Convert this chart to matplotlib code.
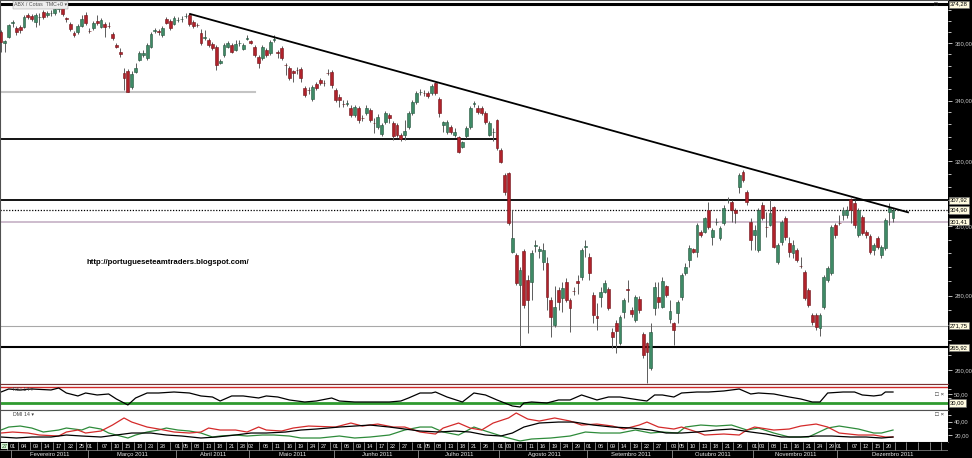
import matplotlib.pyplot as plt
import matplotlib.transforms as mtransforms
from matplotlib.ticker import NullFormatter
import numpy as np
import pandas as pd

plt.rcParams['font.family'] = ['Liberation Sans', 'DejaVu Sans']

# daily candles, 27 Jan 2011 .. 21 Dec 2011
opens = [364.0, 360.0, 362.2, 367.3, 365.4, 365.8, 365.8, 370.2, 369.8, 367.6,
         369.4, 371.3, 370.2, 370.8, 370.9, 372.6, 373.1, 369.0, 366.9, 363.6,
         364.0, 366.2, 370.2, 364.4, 365.4, 368.0, 365.8, 366.9, 366.3, 363.3,
         359.3, 356.8, 349.4, 350.1, 344.6, 349.8, 354.0, 355.8, 354.7, 358.6,
         364.4, 364.2, 362.9, 368.8, 368.0, 366.9, 368.3,
         368.6, 369.9, 370.2, 367.6, 366.5, 363.6, 361.8, 361.1, 359.7, 358.6,
         353.0, 355.8, 358.6, 359.3, 357.5, 360.0, 357.9, 361.6, 360.7, 358.6,
         355.1, 354.7, 357.5, 356.4, 361.3, 356.9, 358.2, 352.3, 351.2, 350.2,
         350.6, 350.8, 344.3, 343.7, 340.5, 345.6, 347.0, 346.1, 349.5, 349.8,
         343.6, 341.2, 339.0, 338.9, 337.5, 335.1, 337.5,
         334.3, 335.8, 336.8, 332.6, 331.2, 328.9, 332.8, 335.1, 332.5, 331.8,
         328.5, 328.5, 331.2, 335.8, 339.5, 342.8, 342.7, 342.6, 342.6, 346.0,
         340.5, 331.8, 329.5, 331.2, 328.5, 327.9, 324.7, 328.2, 331.2, 339.0,
         337.5, 337.5, 335.8, 328.5, 329.4, 333.5, 323.7, 315.7, 316.4, 292.4,
         291.5, 283.0, 292.7, 284.4, 283.8, 294.3, 292.7,
         289.5, 289.2, 278.8, 271.9, 281.6, 279.4, 283.8, 278.8, 281.4, 284.1,
         285.2, 294.0, 291.0, 280.2, 274.3, 279.6, 281.0, 281.8, 270.1, 272.5,
         267.1, 275.5, 281.7, 276.0, 273.3, 279.1, 269.5, 267.1, 260.6, 276.6,
         279.6, 276.9, 282.7, 273.6, 272.5, 275.2, 279.6, 286.4, 290.1, 293.3,
         292.4, 298.3, 298.3, 304.9, 296.8, 301.2,
         296.5, 301.0, 307.9, 307.3, 304.9, 311.9, 316.7, 310.4, 301.3, 297.4,
         293.0, 306.4, 299.9, 300.4, 305.8, 289.5, 295.3, 302.5, 295.0, 292.1,
         293.0, 288.5, 286.6, 281.6, 274.6, 274.6, 271.1, 276.9, 284.4, 286.4,
         300.4, 301.1, 303.4, 303.4, 308.3, 307.0, 297.4, 302.8, 298.3, 297.1,
         293.0, 296.5, 291.5, 293.6, 304.3, 302.5]
highs = [364.7, 361.1, 366.9, 368.4, 366.2, 366.5, 370.2, 371.0, 370.6, 370.9,
         370.9, 372.0, 371.7, 372.0, 373.1, 373.1, 373.5, 369.5, 367.6, 364.4,
         366.9, 370.2, 371.3, 365.4, 368.0, 370.2, 369.1, 367.6, 367.6, 364.0,
         360.0, 358.2, 351.2, 350.8, 350.1, 352.9, 357.2, 357.5, 360.0, 364.0,
         365.4, 365.1, 366.2, 369.5, 368.8, 369.8, 369.5,
         369.8, 370.9, 370.9, 368.4, 367.3, 365.1, 364.7, 361.8, 360.4, 359.3,
         354.3, 360.0, 360.7, 360.0, 361.1, 361.1, 360.0, 362.9, 361.1, 359.3,
         355.8, 359.3, 358.2, 361.1, 362.9, 357.5, 358.9, 353.0, 351.9, 350.5,
         351.5, 351.5, 345.0, 344.6, 345.3, 346.3, 347.7, 347.0, 350.8, 350.5,
         344.3, 342.2, 340.2, 340.2, 338.5, 338.5, 338.1,
         335.1, 338.5, 337.5, 334.1, 335.5, 332.5, 336.5, 335.8, 333.1, 332.5,
         329.2, 333.5, 336.5, 340.2, 343.3, 343.9, 343.6, 343.3, 345.6, 346.3,
         341.2, 333.1, 333.5, 331.8, 330.8, 328.2, 326.6, 331.5, 338.1, 339.8,
         338.5, 338.1, 336.5, 333.1, 330.8, 333.8, 324.3, 316.4, 316.7, 304.9,
         292.1, 288.1, 293.3, 285.8, 293.0, 295.9, 294.3,
         295.0, 291.0, 279.6, 282.7, 282.4, 283.8, 284.9, 279.4, 282.4, 285.8,
         293.6, 295.9, 292.1, 281.0, 278.0, 282.4, 284.4, 282.4, 271.1, 273.3,
         274.6, 279.4, 284.4, 276.9, 280.2, 279.9, 270.1, 267.4, 272.5, 283.8,
         283.8, 285.2, 283.0, 278.8, 272.8, 278.8, 286.4, 289.2, 294.4, 293.6,
         301.0, 298.9, 302.8, 307.3, 299.5, 302.5,
         300.1, 306.4, 308.9, 308.0, 305.5, 316.4, 317.3, 311.0, 302.5, 300.4,
         305.5, 307.3, 304.3, 308.0, 306.1, 295.0, 301.9, 303.1, 296.8, 295.9,
         293.6, 291.0, 287.2, 282.1, 275.2, 275.2, 275.2, 285.8, 288.3, 300.4,
         301.0, 303.4, 305.8, 306.1, 308.6, 308.0, 305.5, 303.4, 298.9, 297.7,
         295.0, 297.1, 294.5, 302.5, 307.0, 305.5]
lows = [356.8, 356.8, 361.8, 365.8, 362.9, 363.6, 365.4, 368.8, 368.0, 365.8,
        366.5, 368.8, 369.5, 370.0, 370.2, 371.3, 369.8, 367.6, 364.4, 362.2,
        363.3, 365.8, 366.5, 363.6, 364.7, 366.5, 365.4, 362.2, 365.4, 361.1,
        358.2, 355.1, 343.6, 342.9, 343.9, 349.4, 353.6, 355.1, 354.0, 358.2,
        363.6, 362.9, 362.2, 366.9, 364.7, 366.5, 367.6,
        367.6, 369.1, 366.2, 365.4, 365.8, 359.3, 361.1, 358.6, 357.5, 350.5,
        352.6, 355.1, 358.2, 356.4, 357.2, 358.9, 357.5, 361.1, 359.7, 355.1,
        351.2, 354.0, 355.1, 355.8, 360.4, 354.7, 354.0, 348.8, 347.0, 346.3,
        349.1, 346.3, 341.2, 342.2, 339.8, 343.6, 345.3, 345.0, 348.8, 344.3,
        339.5, 337.8, 337.8, 338.1, 334.5, 334.5, 332.5,
        333.1, 335.1, 332.8, 329.2, 330.5, 328.2, 332.2, 332.5, 326.9, 327.9,
        326.6, 326.9, 330.5, 335.1, 338.8, 341.9, 341.6, 340.9, 341.9, 341.9,
        334.5, 329.5, 328.9, 328.9, 327.9, 322.7, 324.3, 327.6, 330.5, 337.8,
        335.5, 335.1, 332.2, 328.2, 326.6, 323.7, 319.5, 309.5, 300.4, 292.1,
        282.9, 266.4, 276.6, 269.8, 278.8, 292.4, 290.7,
        287.2, 276.0, 268.7, 271.4, 276.0, 275.5, 278.2, 270.1, 280.1, 280.5,
        284.4, 290.9, 284.4, 272.5, 270.6, 276.9, 280.7, 276.0, 265.8, 264.5,
        266.6, 273.8, 278.2, 274.1, 272.8, 275.2, 263.2, 256.7, 260.1, 274.6,
        276.6, 276.6, 279.6, 272.5, 266.6, 272.5, 278.8, 285.8, 288.1, 292.1,
        291.0, 296.8, 298.0, 299.2, 294.4, 300.4,
        295.9, 300.4, 307.0, 301.3, 301.0, 310.1, 313.5, 306.4, 293.0, 293.0,
        292.4, 301.9, 296.8, 300.1, 293.6, 289.0, 294.5, 295.9, 291.0, 290.7,
        289.5, 287.8, 278.8, 276.9, 271.9, 270.6, 268.9, 276.3, 283.8, 285.8,
        296.5, 300.4, 301.9, 302.5, 301.0, 299.5, 296.8, 297.4, 296.5, 291.8,
        291.5, 293.3, 290.7, 293.0, 300.4, 301.3]
closes = [360.4, 360.7, 366.5, 367.6, 364.0, 364.7, 369.5, 369.5, 368.8, 370.2,
          369.6, 369.5, 370.9, 371.0, 372.4, 372.8, 370.6, 368.8, 365.1, 362.9,
          366.2, 368.8, 367.3, 364.2, 367.3, 367.3, 368.4, 365.8, 366.1, 361.8,
          358.6, 356.1, 347.7, 342.9, 349.1, 351.2, 356.4, 356.4, 359.3, 363.3,
          364.9, 363.9, 365.4, 367.3, 365.4, 369.1, 368.5,
          368.9, 370.0, 366.9, 366.2, 366.4, 360.0, 362.2, 359.3, 358.2, 352.2,
          353.6, 359.3, 360.0, 356.8, 359.7, 360.2, 359.3, 361.9, 360.2, 355.8,
          352.9, 358.6, 355.8, 360.4, 361.5, 356.6, 354.7, 352.1, 347.7, 349.4,
          350.4, 347.7, 341.9, 343.5, 344.6, 344.3, 346.0, 345.9, 349.3, 345.3,
          340.2, 340.2, 338.8, 339.1, 335.1, 337.8, 333.5,
          334.1, 337.5, 333.5, 332.4, 334.5, 331.8, 335.8, 334.1, 328.2, 328.5,
          327.2, 329.8, 335.8, 339.5, 342.6, 343.0, 342.5, 341.6, 345.0, 342.6,
          335.8, 332.8, 332.8, 329.5, 329.5, 323.0, 326.3, 330.8, 337.5, 339.3,
          336.1, 335.8, 332.8, 332.5, 329.6, 324.3, 319.8, 310.4, 301.0, 296.5,
          283.5, 287.2, 277.4, 278.8, 292.1, 294.6, 293.3,
          293.0, 279.6, 274.1, 276.9, 278.2, 282.1, 278.8, 276.6, 281.2, 283.5,
          293.0, 294.3, 286.4, 274.6, 273.8, 281.0, 283.5, 276.6, 268.7, 270.3,
          274.1, 278.8, 281.5, 274.9, 279.6, 276.0, 264.0, 264.8, 270.1, 282.4,
          278.2, 284.1, 280.2, 275.7, 270.6, 278.2, 285.8, 288.1, 293.6, 292.4,
          300.4, 297.4, 302.5, 299.8, 298.9, 301.4,
          299.5, 305.5, 308.1, 304.9, 304.0, 315.7, 314.1, 307.3, 295.9, 298.9,
          304.9, 302.5, 299.7, 304.0, 293.9, 294.5, 301.3, 296.8, 292.4, 294.5,
          290.1, 288.3, 279.4, 277.4, 272.8, 271.4, 274.6, 285.2, 287.8, 299.8,
          297.4, 301.0, 304.9, 304.9, 304.9, 300.4, 304.9, 298.0, 297.4, 292.4,
          294.5, 293.9, 293.9, 301.9, 305.5, 304.9]

# drawn levels and trendline
level_vals = [374.28, 307.92, 304.90, 301.41, 271.75, 265.92]
level_text = ['374,28', '307,92', '304,90', '301,41', '271,75', '265,92']
march_low = 342.9
june_floor = 327.2
trend_idx = [49.2, 235.9]
trend_val = [370.6, 304.2]

# RSI 14
rsi_idx = [0, 2, 5, 8, 13, 15, 17, 20, 22, 25, 28, 30, 33, 35, 38, 41, 45, 49, 52, 55,
           57, 60, 63, 67, 69, 72, 75, 79, 82, 86, 88, 92, 96, 101, 104, 106, 109, 112, 113, 116,
           120, 123, 126, 129, 133, 135, 136, 138, 142, 145, 148, 151, 155, 158, 161, 166, 168, 170, 172, 175,
           177, 181, 184, 188, 192, 195, 197, 201, 205, 208, 211, 213, 215, 219, 222, 224, 227, 229, 230, 232]
rsi_val = [54.4, 61.1, 58.9, 61.1, 58.9, 63.3, 52.2, 45.6, 52.2, 47.8, 50, 38.9, 25.6, 41.1, 52.2, 52.2, 54.4, 52.2, 45.6, 43.3,
           34.4, 45.6, 45.6, 41.1, 45.6, 43.3, 36.7, 32.2, 34.4, 41.1, 34.4, 32.2, 32.2, 32.2, 34.4, 41.1, 52.2, 52.2, 54.4, 43.3,
           32.2, 52.2, 47.8, 36.7, 23.3, 21.1, 30, 32.2, 30, 36.7, 36.7, 47.8, 36.7, 43.3, 43.3, 36.7, 34.4, 47.8, 47.8, 43.3,
           52.2, 54.4, 54.4, 56.7, 61.1, 50, 52.2, 50, 43.3, 38.9, 32.2, 32.2, 52.2, 54.4, 54.4, 47.8, 45.6, 47.8, 54.4, 54.4]

# DMI 14: +DI (green), -DI (red), ADX (black)
pdi_idx = [0, 2, 5, 8, 11, 15, 17, 21, 23, 26, 28, 31, 33, 35, 38, 41, 43, 46, 49, 52,
           55, 57, 61, 64, 68, 71, 75, 78, 83, 88, 92, 96, 101, 105, 109, 112, 115, 119, 123, 126,
           131, 135, 138, 143, 148, 152, 156, 161, 165, 169, 172, 176, 178, 182, 186, 190, 194, 197, 201, 205,
           210, 215, 218, 223, 227, 229, 232]
pdi_val = [27.5, 32, 33.5, 30.5, 24.5, 27.5, 30.5, 27.5, 32, 29, 23, 18.5, 15.5, 20, 24.5, 27.5, 30.5, 27.5, 26, 23,
           17, 18.5, 20, 18.5, 20, 20, 18.5, 15.5, 15.5, 18.5, 15.5, 17, 20, 27.5, 32, 32, 24.5, 20, 32, 26,
           17, 11, 14, 15.5, 18.5, 24.5, 23, 23, 27.5, 23, 24.5, 23, 32, 35, 33.5, 35, 27.5, 30.5, 23, 17,
           17, 30.5, 33.5, 29, 23, 23, 27.5]
mdi_idx = [0, 3, 7, 10, 15, 17, 20, 22, 26, 29, 32, 34, 38, 41, 45, 49, 52, 54, 57, 61,
           64, 67, 69, 73, 76, 80, 87, 91, 94, 98, 102, 105, 109, 113, 115, 119, 122, 125, 128, 132,
           134, 137, 140, 144, 148, 151, 155, 159, 162, 166, 168, 171, 175, 177, 181, 183, 188, 192, 194, 196,
           201, 205, 208, 212, 215, 218, 223, 227, 230, 232]
mdi_val = [23, 24.5, 23, 20, 18.5, 24.5, 27.5, 23, 26, 35, 45.6, 39.5, 32, 29, 24.5, 23, 24.5, 30.5, 27.5, 27.5,
           24.5, 32, 27.5, 26, 30.5, 33.5, 32, 38, 33.5, 36.5, 32, 32, 24.5, 21.5, 30.5, 38, 30.5, 27.5, 38, 45.6,
           53.1, 44, 41, 45.6, 41, 35, 36.5, 33.5, 29, 35, 39.5, 32, 29, 32, 24.5, 20, 21.5, 20, 27.5, 32,
           27.5, 29, 33.5, 36.5, 32, 23, 20, 20, 17, 17]
adx_idx = [0, 4, 8, 13, 17, 21, 26, 30, 34, 39, 43, 47, 52, 56, 61, 65, 69, 74, 78, 82,
           88, 92, 96, 101, 105, 109, 114, 118, 122, 126, 130, 133, 136, 140, 145, 149, 154, 159, 164, 169,
           173, 177, 181, 186, 190, 195, 199, 203, 208, 212, 216, 221, 225, 229, 232]
adx_val = [17, 15.5, 17, 17, 20, 18.5, 17, 20, 23, 23, 20, 18.5, 15.5, 17, 20, 23, 23, 24.5, 27.5, 29,
           32, 33.5, 35, 32, 29, 26, 24.5, 26, 24.5, 20, 18.5, 23, 32, 38, 39.5, 39.5, 35, 32, 30.5, 27.5,
           23, 23, 24.5, 27.5, 29, 24.5, 21.5, 17, 17, 18.5, 18.5, 17, 17, 15.5, 17]

month_names = ['Fevereiro 2011', 'Março 2011', 'Abril 2011', 'Maio 2011', 'Junho 2011', 'Julho 2011',
               'Agosto 2011', 'Setembro 2011', 'Outubro 2011', 'Novembro 2011', 'Dezembro 2011']

# trading days (Euronext closed on Good Friday / Easter Monday)
dates = pd.bdate_range('2011-01-27', '2011-12-21')
dates = dates[~dates.isin(pd.to_datetime(['2011-04-22', '2011-04-25']))]
n = len(closes)
dates = dates[:n]
x = np.arange(n)

W, H = 972, 458
fig = plt.figure(figsize=(W / 100, H / 100), dpi=100, facecolor='black')


def px_box(x0, y0, x1, y1):
    return [x0 / W, 1 - y1 / H, (x1 - x0) / W, (y1 - y0) / H]


ax = fig.add_axes(px_box(0, 0, 948, 384))
ax_rsi = fig.add_axes(px_box(0, 384, 948, 410))
ax_dmi = fig.add_axes(px_box(0, 410, 948, 442))
ax_t = fig.add_axes(px_box(0, 442, 948, 458))
XMIN, XMAX = -0.26, 246.3
for a in (ax, ax_rsi, ax_dmi, ax_t):
    a.set_xlim(XMIN, XMAX)
    a.set_xticks([])
for a in (ax, ax_rsi, ax_dmi):
    a.set_facecolor('white')
    for s in a.spines.values():
        s.set_color('#505050')
        s.set_linewidth(0.8)
    a.spines['right'].set_visible(False)
    a.yaxis.tick_right()
    a.tick_params(axis='y', which='both', colors='#e0e0e0', labelcolor='#c8c8c8',
                  labelsize=4.2, direction='out', width=0.6, pad=1.5)
    a.tick_params(axis='y', which='major', length=3)
    a.tick_params(axis='y', which='minor', length=2)

# ---- price panel ----
ax.set_yscale('log')
ax.set_ylim(256.4, 375.8)
major = [260, 280, 300, 320, 340, 360]
ax.set_yticks(major, labels=[f'{v},00' for v in major])
ax.set_yticks(list(range(260, 376, 4)), minor=True)
ax.yaxis.set_minor_formatter(NullFormatter())

o, h, l, c = map(np.array, (opens, highs, lows, closes))
hi = np.maximum(o, c)
lo = np.minimum(o, c)
h = np.maximum(h, hi)
l = np.minimum(l, lo)
up = c >= o
ax.vlines(x, l, h, color='#5c5c5c', lw=0.7, zorder=3)
ax.bar(x[up], (hi - lo)[up], bottom=lo[up], width=0.74, color='#3e8a66',
       edgecolor='#24543d', lw=0.4, zorder=4)
ax.bar(x[~up], (hi - lo)[~up], bottom=lo[~up], width=0.74, color='#b0222a',
       edgecolor='#6e1218', lw=0.4, zorder=4)

ax.axhline(level_vals[0], color='black', lw=2.2, zorder=2)
ax.axhline(level_vals[1], color='black', lw=1.3, zorder=2)
ax.axhline(level_vals[2], color='black', lw=0.9, ls=(0, (1, 1.3)), zorder=2)
ax.axhline(level_vals[3], color='#c9b6c9', lw=1.3, zorder=2)
ax.axhline(level_vals[4], color='#a8a8a8', lw=0.8, zorder=2)
ax.axhline(level_vals[5], color='black', lw=1.5, zorder=2)
ax.axhline(march_low, xmax=255 / 948, color='#c4c4c4', lw=1.5, zorder=2)
ax.axhline(june_floor, xmax=497 / 948, color='black', lw=1.3, zorder=2)
ax.plot(trend_idx, trend_val, color='black', lw=1.3, zorder=5)

trans = mtransforms.blended_transform_factory(ax.transAxes, ax.transData)
for v, s in zip(level_vals, level_text):
    ax.text(1.002, v, s, transform=trans, fontsize=4.2, va='center', ha='left', color='black',
            bbox=dict(boxstyle='square,pad=0.18', fc='#fffbe0', ec='#707070', lw=0.4),
            clip_on=False, zorder=10)

ax.text(14 / 948, 1 - 5 / 384, 'ABX / Cotas  TMC+0 \u25be', transform=ax.transAxes, fontsize=3.8,
        color='#505050', va='center', ha='left',
        bbox=dict(boxstyle='square,pad=0.2', fc='#eeeeee', ec='#909090', lw=0.3), zorder=6)
ax.text(936 / 948, 1 - 4 / 384, '\u25a1', transform=ax.transAxes, fontsize=4.5,
        color='#303030', va='center', ha='center', zorder=6)
ax.text(168 / 948, 1 - 262 / 384, 'http://portugueseteamtraders.blogspot.com/',
        transform=ax.transAxes, fontsize=5.6, fontweight='bold', ha='center', va='center')

# ---- RSI panel ----
ax_rsi.set_ylim(14.4, 72.2)
ax_rsi.spines['top'].set_color('#7a3030')
ax_rsi.axhline(65.5, color='#d02828', lw=1)
ax_rsi.axhline(30, color='#2f9a2f', lw=2)
ax_rsi.plot(rsi_idx, rsi_val, color='black', lw=0.9)
ax_rsi.set_yticks([50], labels=['50,00'])
ax_rsi.set_yticks([40, 60], minor=True)
rt = mtransforms.blended_transform_factory(ax_rsi.transAxes, ax_rsi.transData)
ax_rsi.text(1.002, 30, '30,00', transform=rt, fontsize=4.2, va='center', ha='left',
            bbox=dict(boxstyle='square,pad=0.18', fc='#fffbe0', ec='#707070', lw=0.4),
            clip_on=False, zorder=10)
ax_rsi.text(13 / 948, 0.78, 'RSI 14 \u25be', transform=ax_rsi.transAxes, fontsize=3.8,
            color='#404040', va='center')
ax_rsi.text(940 / 948, 0.6, '\u25a1 \u00d7', transform=ax_rsi.transAxes, fontsize=4.5,
            color='#303030', va='center', ha='center')

# ---- DMI panel ----
ax_dmi.set_ylim(9.5, 57.6)
ax_dmi.plot(pdi_idx, pdi_val, color='#2e8b3a', lw=0.9)
ax_dmi.plot(mdi_idx, mdi_val, color='#d42a2a', lw=0.9)
ax_dmi.plot(adx_idx, adx_val, color='black', lw=0.9)
ax_dmi.set_yticks([20, 40], labels=['20,00', '40,00'])
ax_dmi.set_yticks([30, 50], minor=True)
ax_dmi.text(13 / 948, 0.87, 'DMI 14 \u25be', transform=ax_dmi.transAxes, fontsize=3.8,
            color='#404040', va='center')
ax_dmi.text(940 / 948, 0.87, '\u25a1 \u00d7', transform=ax_dmi.transAxes, fontsize=4.5,
            color='#303030', va='center', ha='center')

# ---- date strip ----
ax_t.set_facecolor('black')
ax_t.set_ylim(0, 1)
ax_t.set_yticks([])
for s in ax_t.spines.values():
    s.set_visible(False)
starts = [i for i in range(1, n) if dates[i].month != dates[i - 1].month]
grid = range(0, int(XMAX) + 1, 3)
day_pos = sorted(set(starts) | {g for g in grid
                                if all(g == s or abs(g - s) > 1 for s in starts)})
ax_t.axhline(0.5, color='#909090', lw=0.5)
mids = [(a + b) / 2 for a, b in zip(day_pos[:-1], day_pos[1:])]
ax_t.vlines(mids, 0.5, 1, color='#b0b0b0', lw=0.5)
for p in day_pos:
    if p == 0:
        ax_t.text(XMIN + 0.4, 0.75, f'{dates[p].day:02d}', fontsize=4, ha='left', va='center',
                  color='#206020', bbox=dict(boxstyle='square,pad=0.1', fc='#d8f0d8', ec='none'))
    elif p < n:
        ax_t.text(p, 0.75, f'{dates[p].day:02d}', fontsize=4, ha='center', va='center',
                  color='#e8e8e8')
ax_t.vlines([s - 0.5 for s in starts], 0, 0.5, color='#b0b0b0', lw=0.5)
bounds = starts + [XMAX]
for name, a, b in zip(month_names, bounds[:-1], bounds[1:]):
    ax_t.text((a - 0.5 + b) / 2, 0.24, name, fontsize=4.2, ha='center', va='center',
              color='#e8e8e8')

fig.savefig('out.png', dpi=100, facecolor='black')
